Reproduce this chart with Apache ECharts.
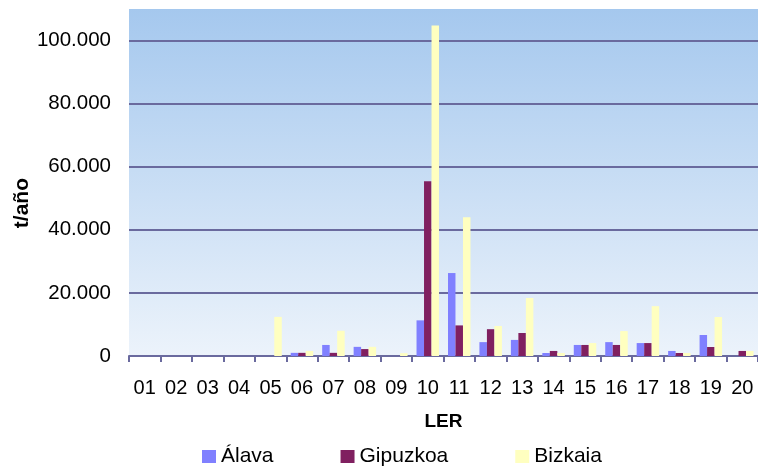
<!DOCTYPE html>
<html>
<head>
<meta charset="utf-8">
<script src="https://cdn.jsdelivr.net/npm/echarts@6/dist/echarts.min.js"></script>
<style>
  html, body { margin: 0; padding: 0; background: #ffffff; }
  #chart { width: 758px; height: 471px; }
</style>
</head>
<body>
<div id="chart"></div>
<script>
// LER waste codes
const categories = ['01','02','03','04','05','06','07','08','09','10','11','12','13','14','15','16','17','18','19','20'];
// tonnes per year by province
const alava    = [0, 0, 0, 0, 0, 1000, 3500, 2900, 0, 11300, 26300, 4400, 5100, 950, 3500, 4400, 4100, 1600, 6650, 0];
const gipuzkoa = [0, 0, 0, 0, 0, 1000, 1000, 2200, 0, 55400, 9700, 8500, 7300, 1600, 3500, 3500, 4100, 950, 2850, 1600];
const bizkaia  = [0, 0, 0, 0, 12400, 1600, 8000, 2900, 900, 104800, 44000, 9500, 18400, 950, 4100, 7900, 15800, 950, 12350, 1600];
const seriesNames = ['Álava', 'Gipuzkoa', 'Bizkaia'];
const yTicks = { min: 0, max: 110000, step: 20000 };

const FONT = "'Liberation Sans', Arial, sans-serif";
const GRIDLINE = '#6a6a9e';

function thousands(v) {
  return String(v).replace(/\B(?=(\d{3})+(?!\d))/g, '.');
}

const chart = echarts.init(document.getElementById('chart'), null, { renderer: 'canvas' });

// one colour per grid line; the extra top tick at the axis max stays invisible
const splitColors = [];
for (let v = yTicks.min; v <= yTicks.max; v += yTicks.step) splitColors.push(GRIDLINE);
splitColors.push('rgba(0,0,0,0)');

const colors = ['#8080ff', '#802060', '#ffffc0'];
const values = [alava, gipuzkoa, bizkaia];

chart.setOption({
  animation: false,
  textStyle: { fontFamily: FONT },
  grid: {
    left: 129, top: 9, width: 633, height: 347,
    show: true,
    borderWidth: 0,
    backgroundColor: new echarts.graphic.LinearGradient(0, 0, 0, 1, [
      { offset: 0, color: '#a5c8ee' },
      { offset: 1, color: '#ecf3fb' }
    ])
  },
  legend: {
    left: 202, top: 446,
    padding: 0,
    itemWidth: 14, itemHeight: 13, itemGap: 67,
    icon: 'rect',
    textStyle: { fontSize: 21, color: '#000', fontFamily: FONT },
    data: seriesNames
  },
  xAxis: {
    type: 'category',
    data: categories,
    name: 'LER',
    nameLocation: 'middle',
    nameGap: 56,
    nameTextStyle: { fontSize: 19, fontWeight: 'bold', color: '#000', fontFamily: FONT },
    axisLine: { lineStyle: { color: GRIDLINE, width: 2 } },
    axisTick: { show: true, length: 6, lineStyle: { color: GRIDLINE, width: 2 } },
    axisLabel: { fontSize: 20, color: '#000', margin: 22, fontFamily: FONT }
  },
  yAxis: {
    type: 'value',
    min: yTicks.min, max: yTicks.max, interval: yTicks.step,
    axisLine: { show: false },
    axisTick: { show: false },
    axisLabel: {
      fontSize: 20.5, color: '#000', margin: 18, fontFamily: FONT,
      showMaxLabel: false,
      formatter: thousands
    },
    splitLine: { show: true, lineStyle: { color: splitColors, width: 2 } }
  },
  graphic: [{
    type: 'text',
    left: 12, top: 178,
    rotation: Math.PI / 2,
    style: { text: 't/año', font: 'bold 21px ' + FONT, fill: '#000' }
  }],
  series: values.map((d, i) => ({
    name: seriesNames[i],
    type: 'bar',
    data: d,
    barWidth: 7.5,
    barGap: '0%',
    itemStyle: { color: colors[i] }
  }))
});
</script>
</body>
</html>
